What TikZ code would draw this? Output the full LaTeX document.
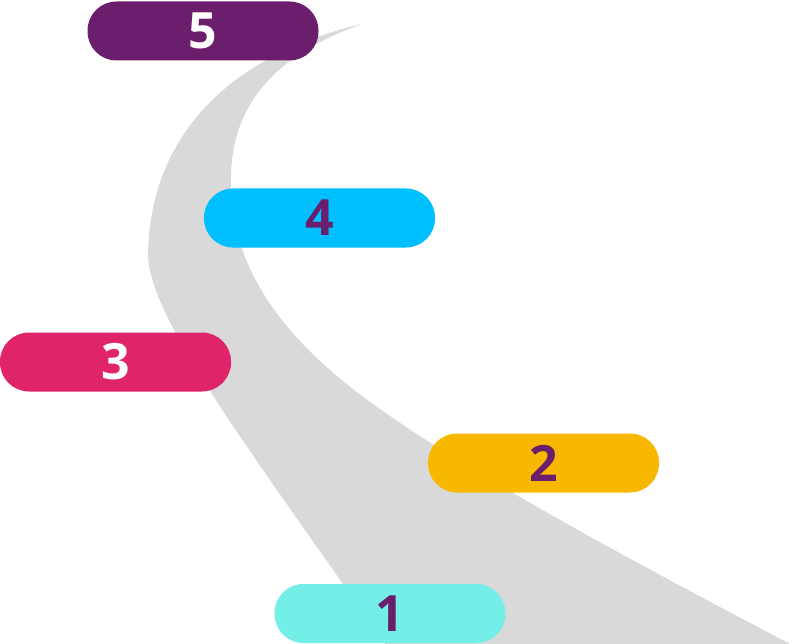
\documentclass[tikz,border=0pt]{standalone}
\usepackage{fontspec}
\setmainfont{Open Sans}
\definecolor{road}{HTML}{D9D9D9}
\definecolor{purp}{HTML}{6B1E6B}
\definecolor{cblue}{HTML}{00BFFF}
\definecolor{cpink}{HTML}{E0246A}
\definecolor{cyel}{HTML}{F9B800}
\definecolor{ccyan}{HTML}{73EFE8}
\begin{document}
\begin{tikzpicture}[x=1pt,y=-1pt,
  pill/.style={rounded corners=29pt,minimum width=231pt,minimum height=59pt,inner sep=0pt,font=\bfseries\fontsize{50}{50}\selectfont}]
\useasboundingbox (0,0) rectangle (794,644);
\fill[road] (362,24) .. controls (250,50) and (150,120) .. (148,255)
  .. controls (150,320) and (250,450) .. (385,644) -- (790,644)
  .. controls (650,570) and (420,450) .. (330,370)
  .. controls (250,300) and (225,230) .. (232,160)
  .. controls (240,90) and (290,50) .. (362,24) -- cycle;
\node[pill,fill=purp,text=white] (n5) at (203,31) {5};
\node[pill,fill=cblue,text=purp] (n4) at (319.5,218) {4};
\node[pill,fill=cpink,text=white] (n3) at (115.5,362) {3};
\node[pill,fill=cyel,text=purp] (n2) at (543.5,463) {2};
\node[pill,fill=ccyan,text=purp] (n1) at (390,613.5) {1};
\end{tikzpicture}
\end{document}
